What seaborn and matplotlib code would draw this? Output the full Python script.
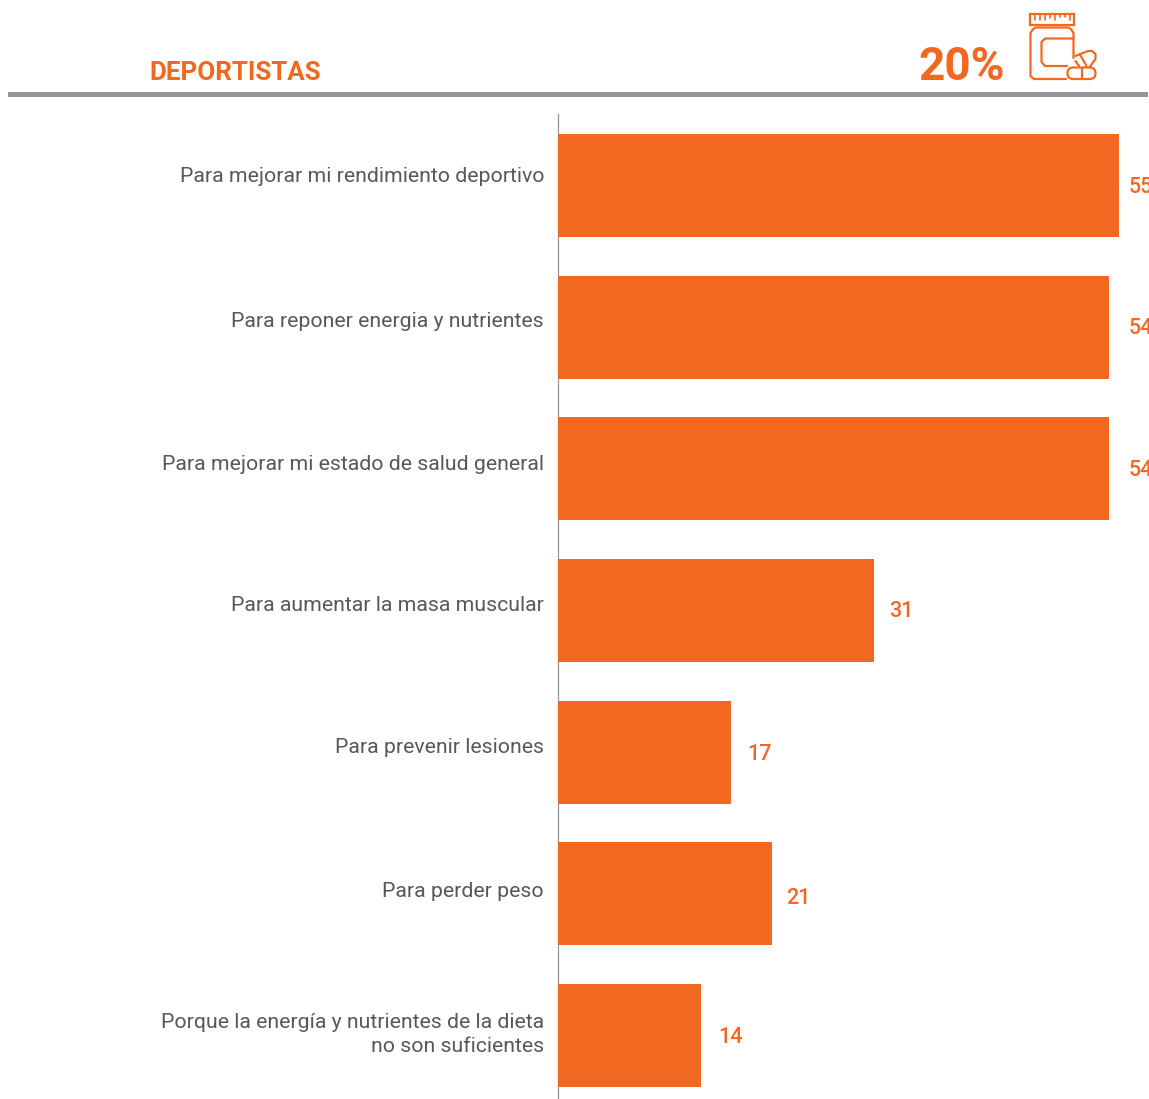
import matplotlib
matplotlib.use("Agg")
import matplotlib.pyplot as plt
from matplotlib.patches import FancyBboxPatch, Rectangle
from matplotlib.lines import Line2D
from matplotlib.transforms import Affine2D
import pandas as pd
import seaborn as sns

categories = [
    "Para mejorar mi rendimiento deportivo",
    "Para reponer energia y nutrientes",
    "Para mejorar mi estado de salud general",
    "Para aumentar la masa muscular",
    "Para prevenir lesiones",
    "Para perder peso",
    "Porque la energía y nutrientes de la dieta\nno son suficientes",
]
values = [55, 54, 54, 31, 17, 21, 14]
title_text = "DEPORTISTAS"
headline_text = "20%"

ORANGE = "#F36821"
GREY_RULE = "#939598"
GREY_TEXT = "#58585A"
W, H = 1149, 1099
DPI = 100

sns.set_theme(style="white", rc={"font.family": ["Roboto", "DejaVu Sans"]})
fig = plt.figure(figsize=(W / DPI, H / DPI), dpi=DPI, facecolor="white")

# Plot area: baseline at x=558 px, 10.2 px per percentage point
left, top, bottom = 558, 114, 1099
ax = fig.add_axes([left / W, 1 - bottom / H, (W - left) / W, (bottom - top) / H])
ax.set_facecolor("none")
df = pd.DataFrame({"motivo": categories, "pct": values})
sns.barplot(data=df, x="pct", y="motivo", color=ORANGE, saturation=1, width=0.727,
            linewidth=0, edgecolor="none", ax=ax)
ax.set_xlim(0, (W - left) / 10.2)
ax.set_ylim(6.448, -0.505)
ax.set_xlabel("")
ax.set_ylabel("")
ax.xaxis.set_visible(False)
for side in ("top", "right", "bottom"):
    ax.spines[side].set_visible(False)
ax.spines["left"].set_color(GREY_RULE)
ax.spines["left"].set_linewidth(0.9)
ax.spines["left"].set_zorder(0.5)

# Category labels sit a little above the centre of each bar
label_shift_px = [11, 8, 6, 7, 7, 4, 6]
ax.tick_params(axis="y", length=0, pad=10.0)
for tick, shift in zip(ax.yaxis.get_major_ticks(), label_shift_px):
    lab = tick.label1
    lab.set_fontsize(15.3)
    lab.set_fontweight("normal")
    lab.set_color(GREY_TEXT)
    lab.set_linespacing(1.34)
    lab.set_transform(lab.get_transform() + Affine2D().translate(0, shift))

# Value labels, placed just beyond each bar
value_gap_px = [10, 20, 20, 15, 16, 14, 17]
value_shift_px = [-2, -1, -2, -1, -2, -5, -2]
for container in ax.containers:
    for bar, val, gap, shift in zip(container, values, value_gap_px, value_shift_px):
        ax.annotate(
            str(val),
            xy=(bar.get_width(), bar.get_y() + bar.get_height() / 2),
            xytext=(gap, shift),
            textcoords="offset pixels",
            va="center",
            ha="left",
            fontsize=15.5,
            fontweight="medium",
            color=ORANGE,
            annotation_clip=False,
        )

# Overlay in pixel coordinates for the header band and the icon
ov = fig.add_axes([0, 0, 1, 1], zorder=5)
ov.set_xlim(0, W)
ov.set_ylim(H, 0)
ov.axis("off")
ov.patch.set_alpha(0)

ov.add_patch(Rectangle((8, 92), 1140, 4.5, color=GREY_RULE, lw=0))
ov.text(149.5, 80.5, title_text, color=ORANGE, fontsize=18.7, fontweight="bold", va="baseline", ha="left")
ov.text(918.5, 80, headline_text, color=ORANGE, fontsize=33, fontweight="bold", va="baseline", ha="left")

# Supplement bottle icon
icon = dict(color=ORANGE, lw=1.6, solid_capstyle="round", solid_joinstyle="round")


def stroke(xs, ys, **kw):
    ov.add_line(Line2D(xs, ys, **{**icon, **kw}))


ov.add_patch(Rectangle((1030, 14), 44, 10.5, fill=False, ec=ORANGE, lw=1.6))
for x, length in zip(range(1035, 1072, 5), [6, 6, 6, 4, 6, 3, 3, 6]):
    stroke([x, x], [14, 14 + length], lw=1.2)
stroke(
    [1066, 1034, 1030.5, 1030.5, 1033, 1036, 1068, 1071, 1073.5, 1073.5],
    [79, 79, 76, 33, 29, 27.5, 27.5, 29, 33, 58],
)
stroke(
    [1073.5, 1045, 1041.5, 1041.5, 1045, 1067],
    [38.5, 38.5, 42, 62, 66, 66],
)
# Two capsules beside the bottle
ov.add_patch(FancyBboxPatch((1067.5, 67.5), 28, 11.5, boxstyle="round,pad=0,rounding_size=5.7",
                            fill=False, ec=ORANGE, lw=1.6))
stroke([1082, 1082], [67.5, 79])
stroke(
    [1075.5, 1088, 1092, 1095.5, 1095.5, 1090],
    [56, 51, 51, 54, 59, 66.5],
)
stroke([1080, 1086.5], [54.5, 66])
stroke([1075.5, 1079], [61, 66])

fig.savefig("out.png", dpi=DPI, facecolor="white")
